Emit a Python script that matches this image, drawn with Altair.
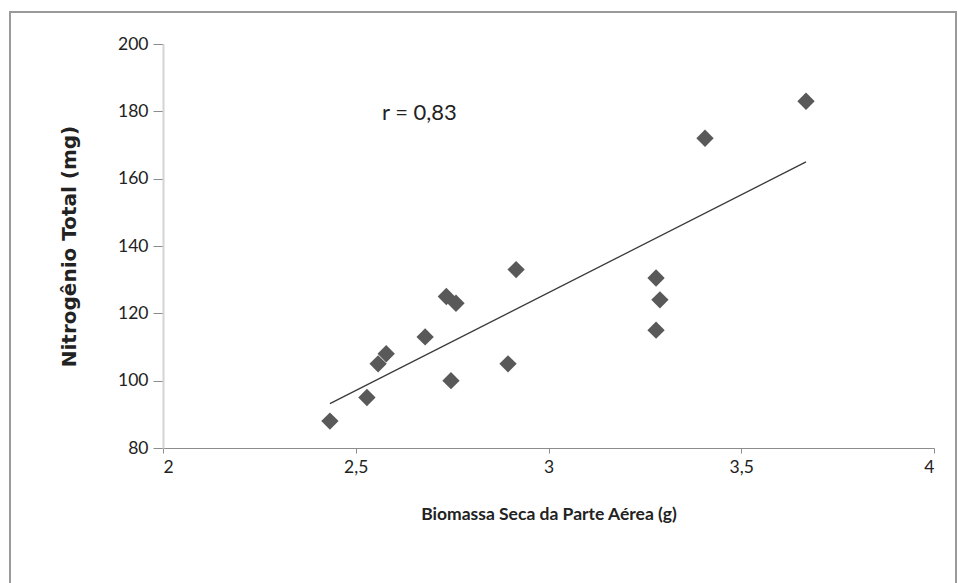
import altair as alt
import pandas as pd

biomassa = [2.433, 2.529, 2.558, 2.579, 2.680, 2.735, 2.760, 2.747, 2.895, 2.916,
            3.279, 3.289, 3.279, 3.406, 3.668]
nitrogenio = [88, 95, 105, 108, 113, 125, 123, 100, 105, 133,
              130.5, 124, 115, 172, 183]
x_ticks = [2, 2.5, 3, 3.5, 4]
y_ticks = [80, 100, 120, 140, 160, 180, 200]
annot_text = ["r = 0,83"]
annot_x = [2.568]
annot_y = [179.5]

df = pd.DataFrame({"x": biomassa, "y": nitrogenio})
ann = pd.DataFrame({"x": annot_x, "y": annot_y, "t": annot_text})

FONT = "Lato"
W, H = 771, 404

xscale = alt.Scale(domain=[2, 4], nice=False, zero=False)
yscale = alt.Scale(domain=[80, 200], nice=False, zero=False)

xaxis = alt.Axis(values=x_ticks, title="Biomassa Seca da Parte Aérea (g)",
                 labelExpr="replace(format(datum.value, ''), '.', ',')",
                 grid=False, domainColor="#8c8c8c", domainWidth=1.2,
                 tickColor="#8c8c8c", tickSize=5, labelPadding=5,
                 labelFontSize=17.5, labelColor="#222", labelFont=FONT,
                 titleFont=FONT, titleFontSize=17.5, titleFontWeight="bold",
                 titleColor="#222", titlePadding=30)
yaxis = alt.Axis(values=y_ticks, title="Nitrogênio Total (mg)",
                 grid=False, domainColor="#d4d4d4", domainWidth=2,
                 tickColor="#8c8c8c", tickSize=10, labelPadding=5,
                 labelFontSize=17.5, labelColor="#222", labelFont=FONT,
                 titleFont="DejaVu Sans", titleFontSize=20, titleFontWeight="bold",
                 titleColor="#222", titlePadding=38)

base = alt.Chart(df)

points = base.mark_point(shape="diamond", filled=True, size=300,
                         color="#595959", opacity=1).encode(
    x=alt.X("x:Q", scale=xscale, axis=xaxis),
    y=alt.Y("y:Q", scale=yscale, axis=yaxis),
)

trend = base.transform_regression("x", "y", method="linear").mark_line(
    color="#3a3a3a", strokeWidth=1.3).encode(
    x=alt.X("x:Q", scale=xscale),
    y=alt.Y("y:Q", scale=yscale),
)

text = alt.Chart(ann).mark_text(align="left", baseline="middle", fontSize=22,
                                font=FONT, color="#222").encode(
    x=alt.X("x:Q", scale=xscale),
    y=alt.Y("y:Q", scale=yscale),
    text="t:N",
)

frame = alt.Chart(ann).mark_rect(fill=None, stroke="#9a9a9a", strokeWidth=2).encode(
    x=alt.value(-153), x2=alt.value(793), y=alt.value(-32), y2=alt.value(560),
)

chart = alt.layer(frame, trend, points, text).properties(
    width=W, height=H,
    autosize=alt.AutoSizeParams(type="none"),
    padding={"left": 163, "top": 44, "right": 24, "bottom": 135},
    background="white",
).configure_view(stroke=None)

chart.save("out.html", embed_options={"renderer": "svg", "actions": False})
